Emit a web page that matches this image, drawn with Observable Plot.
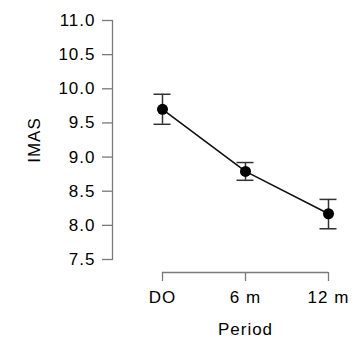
<!DOCTYPE html>
<html>
<head>
<meta charset="utf-8">
<script src="https://cdn.jsdelivr.net/npm/d3@7"></script>
<script src="https://cdn.jsdelivr.net/npm/@observablehq/plot@0.6"></script>
<style>
  html, body { margin: 0; padding: 0; background: #fff; }
  #chart svg text { letter-spacing: 1px; }
</style>
</head>
<body>
<div id="chart"></div>
<script>
// IMAS score by follow-up period: mean with error bars
const periods = ["DO", "6 m", "12 m"];
const means = [9.70, 8.79, 8.17];
const lower = [9.48, 8.66, 7.95];
const upper = [9.92, 8.92, 8.38];
const yTicks = [7.5, 8.0, 8.5, 9.0, 9.5, 10.0, 10.5, 11.0];

const rows = periods.map((p, i) => ({period: p, mean: means[i], lo: lower[i], hi: upper[i]}));

const axisGray = "#7a7a7a";
const ink = "#000";
const capHalf = 8.5;
const fs = 17;

const chart = Plot.plot({
  width: 356,
  height: 341,
  marginTop: 20,
  marginBottom: 82,
  marginLeft: 112,
  marginRight: 28,
  style: {fontFamily: "'Liberation Sans', Arial, sans-serif", fontSize: fs + "px", background: "#fff", color: ink},
  x: {type: "point", domain: periods, range: [162, 328], padding: 0},
  y: {domain: [7.5, 11]},
  marks: [
    // y axis line and ticks
    Plot.frame({anchor: "left", stroke: axisGray, strokeWidth: 1.3}),
    Plot.axisY({ticks: yTicks, tickFormat: d3.format(".1f"), tickSize: 10, tickPadding: 7, stroke: axisGray, fill: ink, strokeWidth: 1.3, fontSize: fs, label: null}),
    // x axis line below the frame, with downward ticks
    Plot.ruleY([7.5], {x1: () => periods[0], x2: () => periods[periods.length - 1], dy: 13, stroke: axisGray, strokeWidth: 1.3}),
    Plot.axisX({dy: 13, tickSize: 9, tickPadding: 9, stroke: axisGray, fill: ink, strokeWidth: 1.3, fontSize: fs, label: null}),
    // axis titles
    Plot.text(["IMAS"], {frameAnchor: "left", rotate: -90, dx: -78, fill: ink, fontSize: fs, textAnchor: "middle", lineAnchor: "middle"}),
    Plot.text(["Period"], {frameAnchor: "bottom", dx: 25, dy: 70, fill: ink, fontSize: fs, textAnchor: "middle", lineAnchor: "middle"}),
    // error bars with caps
    Plot.ruleX(rows, {x: "period", y1: "lo", y2: "hi", stroke: "#333", strokeWidth: 1.5}),
    Plot.ruleY(rows, {y: "lo", x1: "period", x2: "period", insetLeft: -capHalf, insetRight: -capHalf, stroke: "#333", strokeWidth: 1.5}),
    Plot.ruleY(rows, {y: "hi", x1: "period", x2: "period", insetLeft: -capHalf, insetRight: -capHalf, stroke: "#333", strokeWidth: 1.5}),
    // mean trend
    Plot.line(rows, {x: "period", y: "mean", stroke: "#111", strokeWidth: 1.6}),
    Plot.dot(rows, {x: "period", y: "mean", r: 5.5, fill: "#000", stroke: "none"})
  ]
});

document.getElementById("chart").appendChild(chart);
</script>
</body>
</html>
